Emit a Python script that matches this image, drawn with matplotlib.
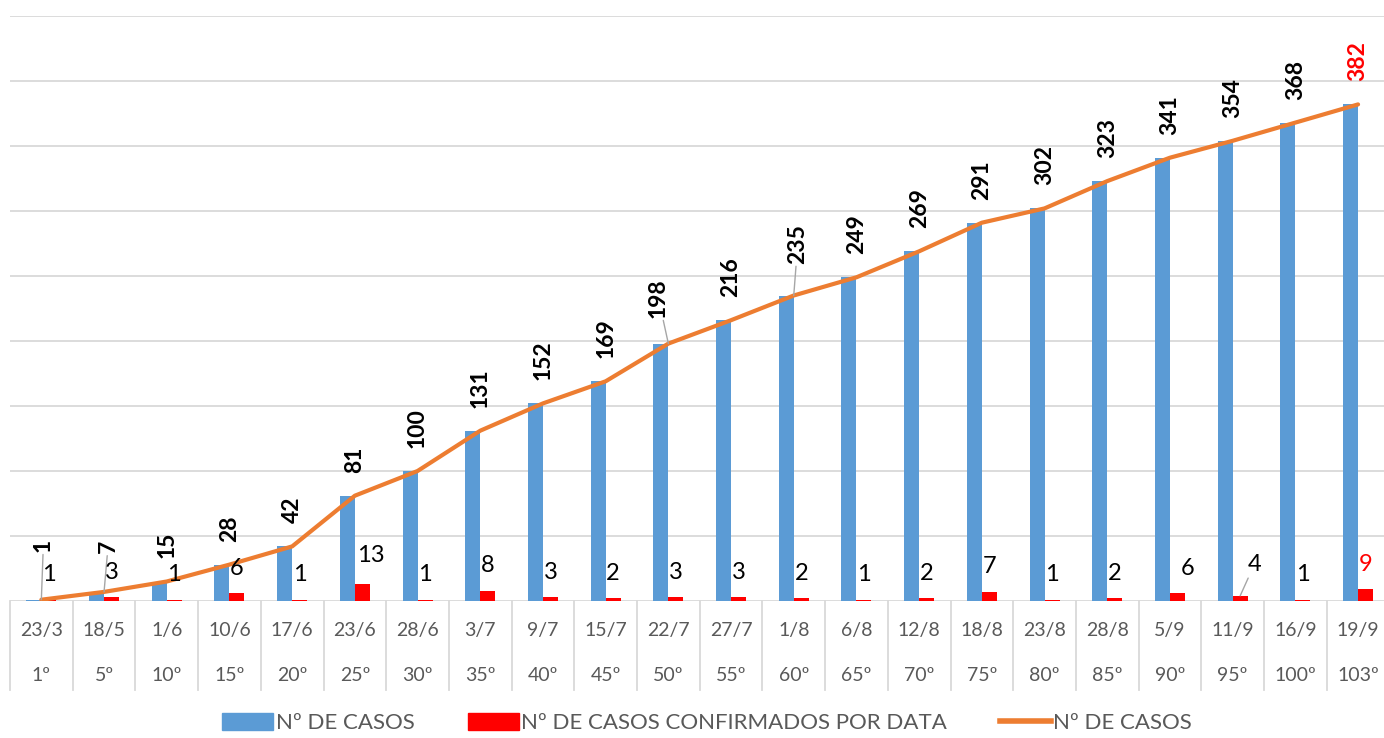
import numpy as np
import matplotlib.pyplot as plt
from matplotlib.patches import Patch
from matplotlib.lines import Line2D

plt.rcParams['font.family'] = ['Lato', 'DejaVu Sans']

# data
dates = ['23/3', '18/5', '1/6', '10/6', '17/6', '23/6', '28/6', '3/7', '9/7', '15/7', '22/7',
         '27/7', '1/8', '6/8', '12/8', '18/8', '23/8', '28/8', '5/9', '11/9', '16/9', '19/9']
days = ['1º', '5º', '10º', '15º', '20º', '25º', '30º', '35º', '40º', '45º', '50º',
        '55º', '60º', '65º', '70º', '75º', '80º', '85º', '90º', '95º', '100º', '103º']
casos = [1, 7, 15, 28, 42, 81, 100, 131, 152, 169, 198, 216, 235, 249, 269, 291, 302, 323, 341, 354, 368, 382]
por_data = [1, 3, 1, 6, 1, 13, 1, 8, 3, 2, 3, 3, 2, 1, 2, 7, 1, 2, 6, 4, 1, 9]

blue = '#5B9BD5'
red = '#FF0000'
orange = '#ED7D31'
grid_c = '#D9D9D9'
txt_c = '#595959'
lead_c = '#A6A6A6'

fig = plt.figure(figsize=(13.84, 7.38), dpi=100)
ax = fig.add_axes([10 / 1384, 1 - 601 / 738, 1379.4 / 1384, 585 / 738])

x = np.arange(len(dates))
w = 0.24
ax.bar(x - w / 2, casos, w, color=blue, zorder=2)
ax.bar(x + w / 2, por_data, w, color=red, zorder=2)
ax.plot(x, casos, color=orange, lw=3, zorder=3, solid_capstyle='round')

ax.set_xlim(-0.5, len(dates) - 0.5)
ax.set_ylim(0, 450)
ax.set_yticks(np.arange(0, 451, 50))
ax.yaxis.grid(True, color=grid_c, lw=1.3)
ax.set_axisbelow(True)
ax.tick_params(left=False, bottom=False, labelleft=False, labelbottom=False)
for s in ax.spines.values():
    s.set_visible(False)

# category table under the axis
tr = ax.get_xaxis_transform()
for i in range(len(dates) + 1):
    ax.plot([i - 0.5, i - 0.5], [0, -0.152], transform=tr, color=grid_c, lw=1.3, clip_on=False)
for i, (d, n) in enumerate(zip(dates, days)):
    ax.text(i, -0.0496, d, transform=tr, ha='center', va='center', fontsize=14, color=txt_c)
    ax.text(i, -0.1265, n, transform=tr, ha='center', va='center', fontsize=14, color=txt_c)

# labels of the cumulative values (offsets in points)
px = 0.72
special = {0: (2, 48), 1: (4, 39), 10: (-10, 26), 12: (4, 32)}
for i, v in enumerate(casos):
    dx, dy = special.get(i, (0, 23))
    kw = {}
    if i in special:
        kw['arrowprops'] = dict(arrowstyle='-', color=lead_c, lw=1, shrinkA=0, shrinkB=0)
    ax.annotate(str(v), (i, v), xytext=(dx * px, dy * px), textcoords='offset points',
                rotation=90, ha='center', va='bottom', fontsize=16.5, fontweight='bold',
                color=red if i == len(casos) - 1 else 'black', zorder=5, **kw)

# labels of the daily values
rspecial = {5: (8, 29), 18: (10, 25), 19: (14, 31)}
for i, v in enumerate(por_data):
    dx, dy = rspecial.get(i, (0, 25))
    kw = {}
    if i == 19:
        kw['arrowprops'] = dict(arrowstyle='-', color=lead_c, lw=1, shrinkA=0, shrinkB=0)
    ax.annotate(str(v), (i + w / 2, v), xytext=(dx * px, dy * px), textcoords='offset points',
                ha='center', va='center', fontsize=17,
                color=red if i == len(por_data) - 1 else 'black', zorder=5, **kw)

handles = [Patch(color=blue), Patch(color=red), Line2D([0], [0], color=orange, lw=4)]
labels = ['Nº DE CASOS', 'Nº DE CASOS CONFIRMADOS POR DATA', 'Nº DE CASOS']
fig.legend(handles, labels, loc='center', bbox_to_anchor=(0.511, 0.02), ncol=3, frameon=False,
           fontsize=16, labelcolor=txt_c, handlelength=2.3, handleheight=0.8,
           handletextpad=0.1, columnspacing=2.4)

fig.savefig('out.png', dpi=100)
